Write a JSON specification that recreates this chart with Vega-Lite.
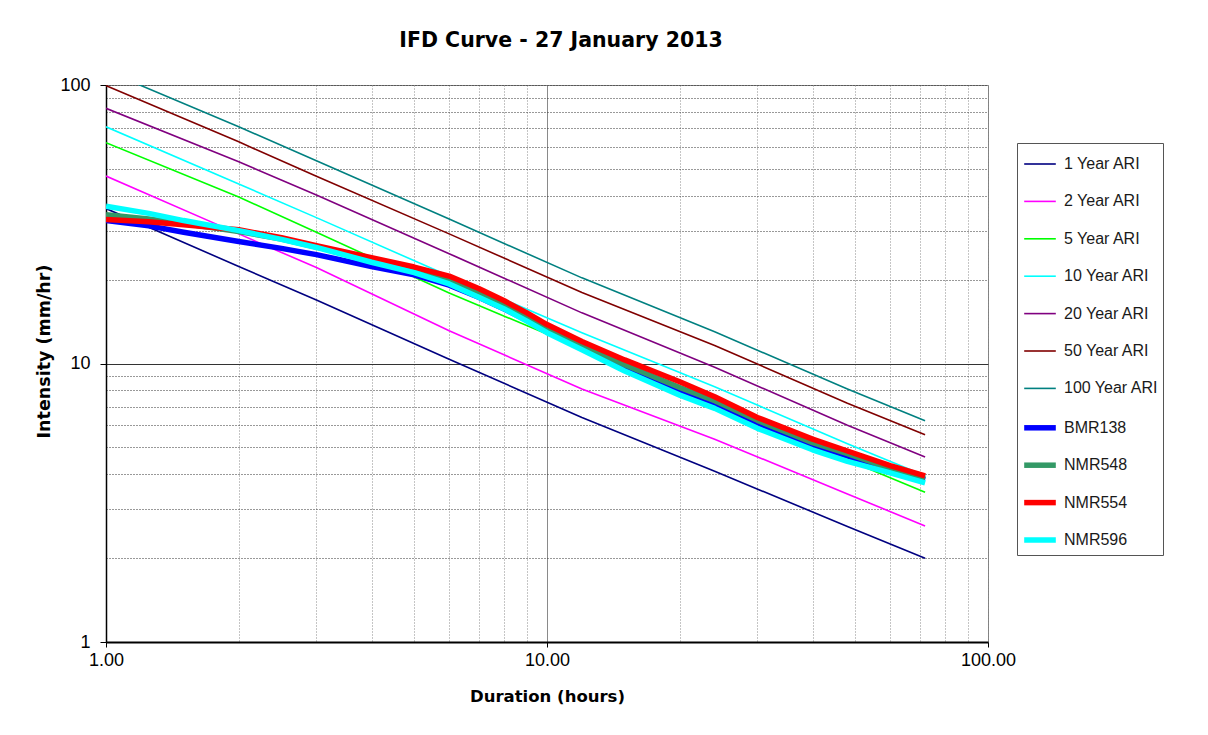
{
  "$schema": "https://vega.github.io/schema/vega-lite/v6.json",
  "width": 882,
  "height": 557,
  "autosize": {"type": "none"},
  "padding": {"left": 106, "top": 85, "right": 220, "bottom": 93},
  "background": "white",
  "title": {"text": "IFD Curve - 27 January 2013", "font": "DejaVu Sans", "fontSize": 20.5, "fontWeight": "bold", "color": "#000", "anchor": "middle", "frame": "group", "baseline": "alphabetic", "offset": 9, "dx": 14},
  "datasets": {
    "ari": [
      {"series": "1 Year ARI", "duration": 1, "intensity": 36.0},
      {"series": "1 Year ARI", "duration": 2, "intensity": 22.3},
      {"series": "1 Year ARI", "duration": 3, "intensity": 16.9},
      {"series": "1 Year ARI", "duration": 6, "intensity": 10.35},
      {"series": "1 Year ARI", "duration": 12, "intensity": 6.4},
      {"series": "1 Year ARI", "duration": 24, "intensity": 4.1},
      {"series": "1 Year ARI", "duration": 48, "intensity": 2.6},
      {"series": "1 Year ARI", "duration": 72, "intensity": 2.0},
      {"series": "2 Year ARI", "duration": 1, "intensity": 47.1},
      {"series": "2 Year ARI", "duration": 2, "intensity": 29.2},
      {"series": "2 Year ARI", "duration": 3, "intensity": 22.1},
      {"series": "2 Year ARI", "duration": 6, "intensity": 13.1},
      {"series": "2 Year ARI", "duration": 12, "intensity": 8.1},
      {"series": "2 Year ARI", "duration": 24, "intensity": 5.35},
      {"series": "2 Year ARI", "duration": 48, "intensity": 3.4},
      {"series": "2 Year ARI", "duration": 72, "intensity": 2.61},
      {"series": "5 Year ARI", "duration": 1, "intensity": 62.1},
      {"series": "5 Year ARI", "duration": 2, "intensity": 39.6},
      {"series": "5 Year ARI", "duration": 3, "intensity": 29.6},
      {"series": "5 Year ARI", "duration": 6, "intensity": 17.9},
      {"series": "5 Year ARI", "duration": 12, "intensity": 11.3},
      {"series": "5 Year ARI", "duration": 24, "intensity": 7.05},
      {"series": "5 Year ARI", "duration": 48, "intensity": 4.5},
      {"series": "5 Year ARI", "duration": 72, "intensity": 3.45},
      {"series": "10 Year ARI", "duration": 1, "intensity": 70.8},
      {"series": "10 Year ARI", "duration": 2, "intensity": 44.1},
      {"series": "10 Year ARI", "duration": 3, "intensity": 33.4},
      {"series": "10 Year ARI", "duration": 6, "intensity": 20.6},
      {"series": "10 Year ARI", "duration": 12, "intensity": 12.9},
      {"series": "10 Year ARI", "duration": 24, "intensity": 8.25},
      {"series": "10 Year ARI", "duration": 48, "intensity": 5.15},
      {"series": "10 Year ARI", "duration": 72, "intensity": 3.95},
      {"series": "20 Year ARI", "duration": 1, "intensity": 82.5},
      {"series": "20 Year ARI", "duration": 2, "intensity": 53.0},
      {"series": "20 Year ARI", "duration": 3, "intensity": 40.3},
      {"series": "20 Year ARI", "duration": 6, "intensity": 24.8},
      {"series": "20 Year ARI", "duration": 12, "intensity": 15.2},
      {"series": "20 Year ARI", "duration": 24, "intensity": 9.7},
      {"series": "20 Year ARI", "duration": 48, "intensity": 6.0},
      {"series": "20 Year ARI", "duration": 72, "intensity": 4.62},
      {"series": "50 Year ARI", "duration": 1, "intensity": 99.5},
      {"series": "50 Year ARI", "duration": 2, "intensity": 62.5},
      {"series": "50 Year ARI", "duration": 3, "intensity": 47.0},
      {"series": "50 Year ARI", "duration": 6, "intensity": 29.2},
      {"series": "50 Year ARI", "duration": 12, "intensity": 18.0},
      {"series": "50 Year ARI", "duration": 24, "intensity": 11.6},
      {"series": "50 Year ARI", "duration": 48, "intensity": 7.2},
      {"series": "50 Year ARI", "duration": 72, "intensity": 5.55},
      {"series": "100 Year ARI", "duration": 1, "intensity": 112.5},
      {"series": "100 Year ARI", "duration": 2, "intensity": 70.8},
      {"series": "100 Year ARI", "duration": 3, "intensity": 53.5},
      {"series": "100 Year ARI", "duration": 6, "intensity": 33.0},
      {"series": "100 Year ARI", "duration": 12, "intensity": 20.3},
      {"series": "100 Year ARI", "duration": 24, "intensity": 13.0},
      {"series": "100 Year ARI", "duration": 48, "intensity": 8.1},
      {"series": "100 Year ARI", "duration": 72, "intensity": 6.23}
    ],
    "gauges": [
      {"series": "BMR138", "duration": 1, "intensity": 32.6},
      {"series": "BMR138", "duration": 1.25, "intensity": 31.2},
      {"series": "BMR138", "duration": 1.5, "intensity": 29.6},
      {"series": "BMR138", "duration": 2, "intensity": 27.4},
      {"series": "BMR138", "duration": 2.5, "intensity": 25.9},
      {"series": "BMR138", "duration": 3, "intensity": 24.6},
      {"series": "BMR138", "duration": 4, "intensity": 22.3},
      {"series": "BMR138", "duration": 5, "intensity": 20.8},
      {"series": "BMR138", "duration": 6, "intensity": 19.1},
      {"series": "BMR138", "duration": 7, "intensity": 17.3},
      {"series": "BMR138", "duration": 8, "intensity": 15.7},
      {"series": "BMR138", "duration": 9, "intensity": 14.3},
      {"series": "BMR138", "duration": 10, "intensity": 13.0},
      {"series": "BMR138", "duration": 12, "intensity": 11.4},
      {"series": "BMR138", "duration": 15, "intensity": 9.6},
      {"series": "BMR138", "duration": 20, "intensity": 7.95},
      {"series": "BMR138", "duration": 24, "intensity": 7.1},
      {"series": "BMR138", "duration": 30, "intensity": 6.1},
      {"series": "BMR138", "duration": 40, "intensity": 5.1},
      {"series": "BMR138", "duration": 48, "intensity": 4.65},
      {"series": "BMR138", "duration": 60, "intensity": 4.14},
      {"series": "BMR138", "duration": 72, "intensity": 3.82},
      {"series": "NMR548", "duration": 1, "intensity": 34.2},
      {"series": "NMR548", "duration": 1.25, "intensity": 33.0},
      {"series": "NMR548", "duration": 1.5, "intensity": 31.8},
      {"series": "NMR548", "duration": 2, "intensity": 29.8},
      {"series": "NMR548", "duration": 2.5, "intensity": 28.0},
      {"series": "NMR548", "duration": 3, "intensity": 26.2},
      {"series": "NMR548", "duration": 4, "intensity": 23.6},
      {"series": "NMR548", "duration": 5, "intensity": 21.7},
      {"series": "NMR548", "duration": 6, "intensity": 19.9},
      {"series": "NMR548", "duration": 7, "intensity": 18.0},
      {"series": "NMR548", "duration": 8, "intensity": 16.2},
      {"series": "NMR548", "duration": 9, "intensity": 14.7},
      {"series": "NMR548", "duration": 10, "intensity": 13.3},
      {"series": "NMR548", "duration": 12, "intensity": 11.7},
      {"series": "NMR548", "duration": 15, "intensity": 9.9},
      {"series": "NMR548", "duration": 20, "intensity": 8.2},
      {"series": "NMR548", "duration": 24, "intensity": 7.35},
      {"series": "NMR548", "duration": 30, "intensity": 6.25},
      {"series": "NMR548", "duration": 40, "intensity": 5.2},
      {"series": "NMR548", "duration": 48, "intensity": 4.75},
      {"series": "NMR548", "duration": 60, "intensity": 4.2},
      {"series": "NMR548", "duration": 72, "intensity": 3.87},
      {"series": "NMR554", "duration": 1, "intensity": 32.9},
      {"series": "NMR554", "duration": 1.25, "intensity": 32.3},
      {"series": "NMR554", "duration": 1.5, "intensity": 31.5},
      {"series": "NMR554", "duration": 2, "intensity": 30.2},
      {"series": "NMR554", "duration": 2.5, "intensity": 28.3},
      {"series": "NMR554", "duration": 3, "intensity": 26.5},
      {"series": "NMR554", "duration": 4, "intensity": 24.0},
      {"series": "NMR554", "duration": 5, "intensity": 22.2},
      {"series": "NMR554", "duration": 6, "intensity": 20.6},
      {"series": "NMR554", "duration": 7, "intensity": 18.6},
      {"series": "NMR554", "duration": 8, "intensity": 16.8},
      {"series": "NMR554", "duration": 9, "intensity": 15.2},
      {"series": "NMR554", "duration": 10, "intensity": 13.8},
      {"series": "NMR554", "duration": 12, "intensity": 12.0},
      {"series": "NMR554", "duration": 15, "intensity": 10.3},
      {"series": "NMR554", "duration": 20, "intensity": 8.6},
      {"series": "NMR554", "duration": 24, "intensity": 7.6},
      {"series": "NMR554", "duration": 30, "intensity": 6.4},
      {"series": "NMR554", "duration": 40, "intensity": 5.35},
      {"series": "NMR554", "duration": 48, "intensity": 4.85},
      {"series": "NMR554", "duration": 60, "intensity": 4.3},
      {"series": "NMR554", "duration": 72, "intensity": 3.95},
      {"series": "NMR596", "duration": 1, "intensity": 36.7},
      {"series": "NMR596", "duration": 1.25, "intensity": 34.6},
      {"series": "NMR596", "duration": 1.5, "intensity": 32.6},
      {"series": "NMR596", "duration": 2, "intensity": 30.0},
      {"series": "NMR596", "duration": 2.5, "intensity": 27.9},
      {"series": "NMR596", "duration": 3, "intensity": 26.1},
      {"series": "NMR596", "duration": 4, "intensity": 23.1},
      {"series": "NMR596", "duration": 5, "intensity": 21.2},
      {"series": "NMR596", "duration": 6, "intensity": 19.3},
      {"series": "NMR596", "duration": 7, "intensity": 17.3},
      {"series": "NMR596", "duration": 8, "intensity": 15.7},
      {"series": "NMR596", "duration": 9, "intensity": 14.2},
      {"series": "NMR596", "duration": 10, "intensity": 12.9},
      {"series": "NMR596", "duration": 12, "intensity": 11.2},
      {"series": "NMR596", "duration": 15, "intensity": 9.4},
      {"series": "NMR596", "duration": 20, "intensity": 7.7},
      {"series": "NMR596", "duration": 24, "intensity": 6.9},
      {"series": "NMR596", "duration": 30, "intensity": 5.85},
      {"series": "NMR596", "duration": 40, "intensity": 4.9},
      {"series": "NMR596", "duration": 48, "intensity": 4.45},
      {"series": "NMR596", "duration": 60, "intensity": 4.05},
      {"series": "NMR596", "duration": 72, "intensity": 3.73}
    ]
  },
  "encoding": {
    "x": {
      "field": "duration", "type": "quantitative",
      "scale": {"type": "log", "domain": [1, 100], "nice": false},
      "axis": {
        "title": "Duration (hours)",
        "values": [1, 2, 3, 4, 5, 6, 7, 8, 9, 10, 20, 30, 40, 50, 60, 70, 80, 90, 100],
        "format": ".2f",
        "labelExpr": "indexof([1, 10, 100], datum.value) >= 0 ? datum.label : ''",
        "labelFlush": false,
        "grid": true,
        "gridColor": "#8a8a8a",
        "gridWidth": 1,
        "gridDash": {"condition": {"test": "datum.value == 10", "value": []}, "value": [1, 2]},
        "tickOpacity": {"condition": {"test": "indexof([1, 10, 100], datum.value) < 0", "value": 0}, "value": 1},
        "tickSize": 5,
        "labelPadding": 4,
        "domainWidth": 2,
        "titlePadding": 19
      }
    },
    "y": {
      "field": "intensity", "type": "quantitative",
      "scale": {"type": "log", "domain": [1, 100], "nice": false},
      "axis": {
        "title": "Intensity (mm/hr)",
        "values": [1, 2, 3, 4, 5, 6, 7, 8, 9, 10, 20, 30, 40, 50, 60, 70, 80, 90, 100],
        "format": "d",
        "labelExpr": "indexof([1, 10, 100], datum.value) >= 0 ? datum.label : ''",
        "labelFlush": false,
        "grid": true,
        "gridColor": "#333333",
        "gridWidth": 1,
        "gridDash": {"condition": {"test": "datum.value == 10", "value": []}, "value": [1, 2]},
        "tickOpacity": {"condition": {"test": "indexof([1, 10, 100], datum.value) < 0", "value": 0}, "value": 1},
        "tickSize": 6,
        "labelPadding": 10,
        "domainWidth": 1.5,
        "titlePadding": 6,
        "titleFontSize": 17.5,
        "titleY": 266
      }
    },
    "color": {
      "field": "series", "type": "nominal",
      "scale": {
        "domain": ["1 Year ARI", "2 Year ARI", "5 Year ARI", "10 Year ARI", "20 Year ARI", "50 Year ARI", "100 Year ARI", "BMR138", "NMR548", "NMR554", "NMR596"],
        "range": ["#000080", "#FF00FF", "#00FF00", "#00FFFF", "#800080", "#800000", "#008080", "#0000FF", "#339966", "#FF0000", "#00FFFF"]
      },
      "legend": {
        "title": null, "orient": "none", "legendX": 911, "legendY": 58,
        "symbolType": "stroke", "symbolSize": 1000, "gridAlign": "all",
        "labelFont": "Liberation Sans", "labelFontSize": 16, "labelColor": "#1a1a1a",
        "labelOffset": 5, "strokeColor": "#555555", "fillColor": "white", "padding": 4, "rowPadding": 7.4
      }
    },
    "strokeWidth": {
      "field": "series", "type": "nominal",
      "scale": {
        "type": "ordinal",
        "domain": ["1 Year ARI", "2 Year ARI", "5 Year ARI", "10 Year ARI", "20 Year ARI", "50 Year ARI", "100 Year ARI", "BMR138", "NMR548", "NMR554", "NMR596"],
        "range": [1.6, 1.6, 1.6, 1.6, 1.6, 1.6, 1.6, 5.5, 5.5, 5.5, 5.5]
      },
      "legend": {
        "title": null, "orient": "none", "legendX": 911, "legendY": 58,
        "symbolType": "stroke", "symbolSize": 1000, "gridAlign": "all",
        "labelFont": "Liberation Sans", "labelFontSize": 16, "labelColor": "#1a1a1a",
        "labelOffset": 5, "strokeColor": "#555555", "fillColor": "white", "padding": 4, "rowPadding": 7.4
      }
    }
  },
  "layer": [
    {"data": {"name": "ari"}, "mark": {"type": "line", "clip": true, "strokeJoin": "round"}},
    {"data": {"name": "gauges"}, "mark": {"type": "line", "clip": true, "strokeJoin": "round"}}
  ],
  "config": {
    "view": {"stroke": "#808080", "strokeWidth": 1},
    "axis": {
      "labelFont": "Liberation Sans", "labelFontSize": 18, "labelColor": "#000",
      "titleFont": "DejaVu Sans", "titleFontSize": 16.5, "titleFontWeight": "bold", "titleColor": "#000",
      "domainColor": "#000", "tickColor": "#000", "labelOverlap": false
    }
  }
}
